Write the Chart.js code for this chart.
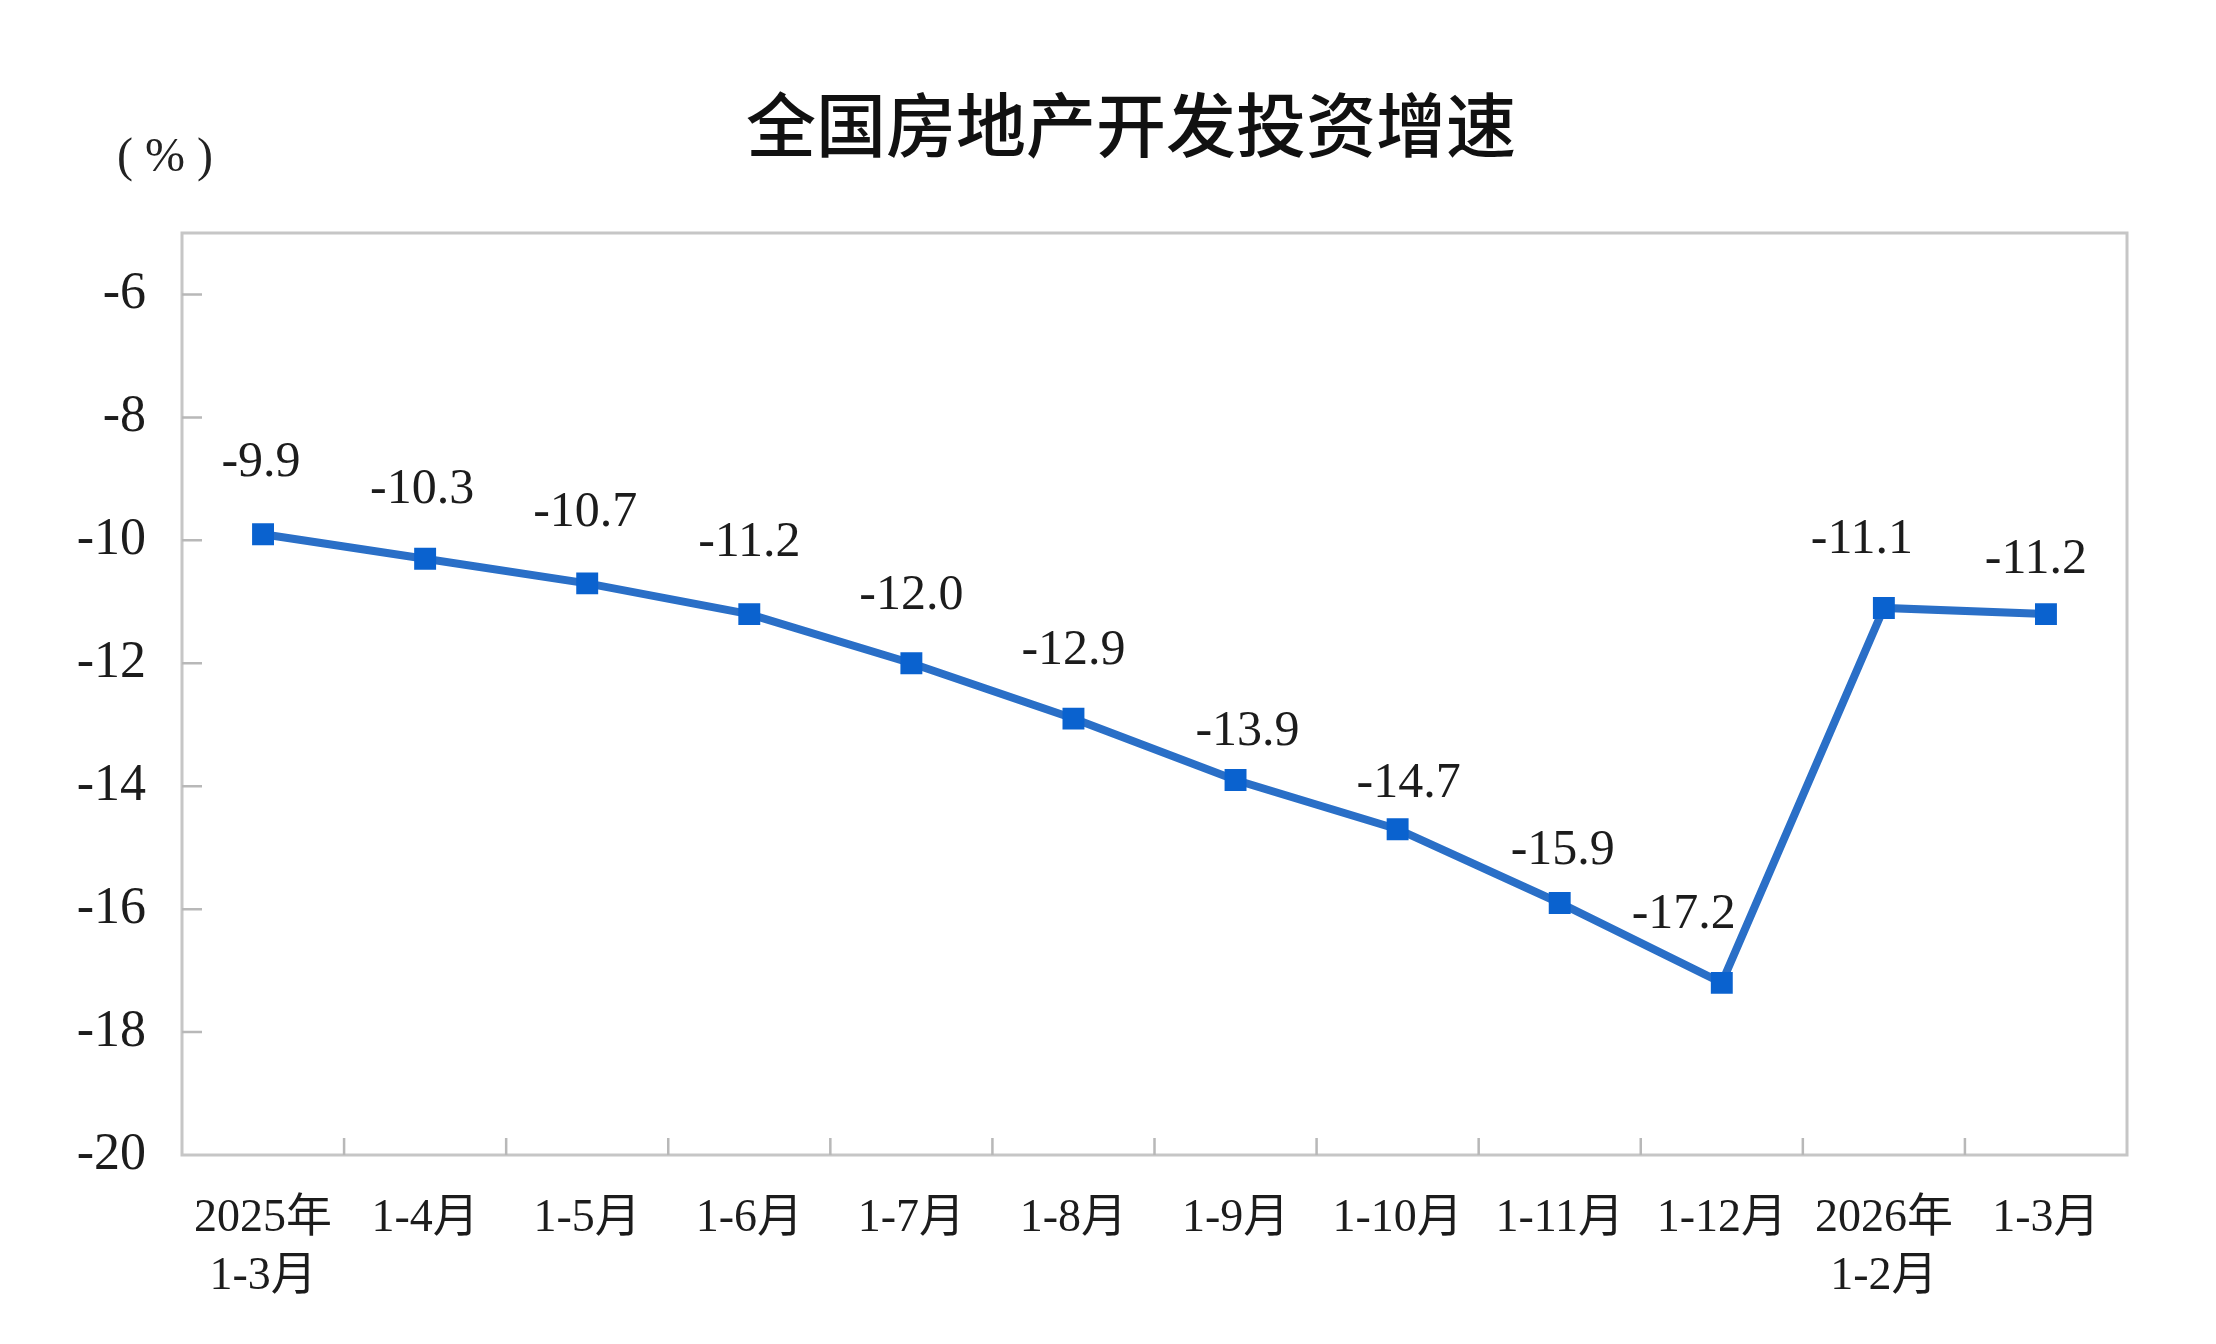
<!DOCTYPE html>
<html>
<head>
<meta charset="utf-8">
<script src="https://cdn.jsdelivr.net/npm/chart.js@4"></script>
<style>
  html, body { margin: 0; padding: 0; background: #fff; overflow: hidden; }
</style>
</head>
<body>
<canvas id="investChart" width="2216" height="1344"></canvas>
<script>
// 全国房地产开发投资增速 (累计同比, %)
const categories = [['2025年', '1-3月'], '1-4月', '1-5月', '1-6月', '1-7月', '1-8月', '1-9月',
    '1-10月', '1-11月', '1-12月', ['2026年', '1-2月'], '1-3月'];
const growth = [-9.9, -10.3, -10.7, -11.2, -12.0, -12.9, -13.9, -14.7, -15.9, -17.2, -11.1, -11.2];
const yTicks = [-20, -18, -16, -14, -12, -10, -8, -6];
const yMin = -20;
const yMax = -5;

const titleText = '全国房地产开发投资增速';
const unitText = '( % )';

const serif = '"Liberation Serif", "Noto Sans CJK SC", serif';

// 边框 + 朝内的刻度线
const framePlugin = {
    id: 'frame',
    beforeDatasetsDraw(chart) {
        const { ctx, chartArea: a, scales: { x, y } } = chart;
        ctx.save();
        ctx.strokeStyle = '#c6c6c6';
        ctx.lineWidth = 3;
        ctx.strokeRect(a.left, a.top, a.right - a.left, a.bottom - a.top);

        ctx.strokeStyle = '#b8b8b8';
        ctx.lineWidth = 2.5;
        ctx.beginPath();
        yTicks.forEach(v => {
            if (v === yMin) return;
            const py = y.getPixelForValue(v);
            ctx.moveTo(a.left, py);
            ctx.lineTo(a.left + 20, py);
        });
        for (let i = 1; i < categories.length; i++) {
            const px = (x.getPixelForValue(i - 1) + x.getPixelForValue(i)) / 2;
            ctx.moveTo(px, a.bottom);
            ctx.lineTo(px, a.bottom - 17);
        }
        ctx.stroke();
        ctx.restore();
    },
    afterDraw(chart) {
        const ctx = chart.ctx;
        ctx.save();
        ctx.fillStyle = '#111';
        ctx.textAlign = 'center';
        ctx.textBaseline = 'middle';
        ctx.font = '500 70px "Noto Sans CJK SC"';
        ctx.fillText(titleText, 1131, 125);

        ctx.fillStyle = '#222';
        ctx.font = '48px ' + serif;
        ctx.fillText(unitText, 165, 158);
        ctx.restore();
    }
};

// 数据标签
const valueLabels = {
    id: 'valueLabels',
    afterDatasetsDraw(chart, args, opts) {
        const ctx = chart.ctx;
        const meta = chart.getDatasetMeta(0);
        ctx.save();
        ctx.fillStyle = '#1c1c1c';
        ctx.font = '50px ' + serif;
        ctx.textAlign = 'center';
        ctx.textBaseline = 'middle';
        meta.data.forEach((pt, i) => {
            const v = chart.data.datasets[0].data[i];
            const off = opts.offsets[i] || [0, 66];
            ctx.fillText(v.toFixed(1), pt.x + off[0], pt.y - off[1]);
        });
        ctx.restore();
    }
};

new Chart(document.getElementById('investChart'), {
    type: 'line',
    data: {
        labels: categories,
        datasets: [{
            data: growth,
            borderColor: '#2a6fc7',
            borderWidth: 8,
            tension: 0,
            pointStyle: 'rect',
            pointRadius: 15.5,
            pointBorderWidth: 0,
            pointBackgroundColor: '#0a62cf'
        }]
    },
    options: {
        responsive: false,
        animation: false,
        layout: {
            padding: { top: 233, right: 89, left: 0, bottom: 0 }
        },
        scales: {
            x: {
                offset: true,
                grid: { display: false },
                border: { display: false },
                ticks: {
                    padding: 27,
                    maxRotation: 0,
                    autoSkip: false,
                    color: '#1c1c1c',
                    font: { family: serif, size: 46, lineHeight: 1.26 }
                },
                afterFit(scale) { scale.height = 189; }
            },
            y: {
                min: yMin,
                max: yMax,
                grid: { display: false },
                border: { display: false },
                afterBuildTicks(axis) {
                    axis.ticks = yTicks.map(v => ({ value: v }));
                },
                ticks: {
                    padding: 28,
                    color: '#1c1c1c',
                    font: { family: serif, size: 52 }
                },
                afterFit(scale) { scale.width = 182; }
            }
        },
        plugins: {
            legend: { display: false },
            title: { display: false },
            tooltip: { enabled: false },
            valueLabels: {
                offsets: [[-2, 71], [-3, 69], [-2, 70], [0, 71], [0, 67], [0, 68],
                    [12, 48], [11, 45], [3, 52], [-38, 68], [-22, 68], [-10, 54]]
            }
        }
    },
    plugins: [framePlugin, valueLabels]
});
</script>
</body>
</html>
